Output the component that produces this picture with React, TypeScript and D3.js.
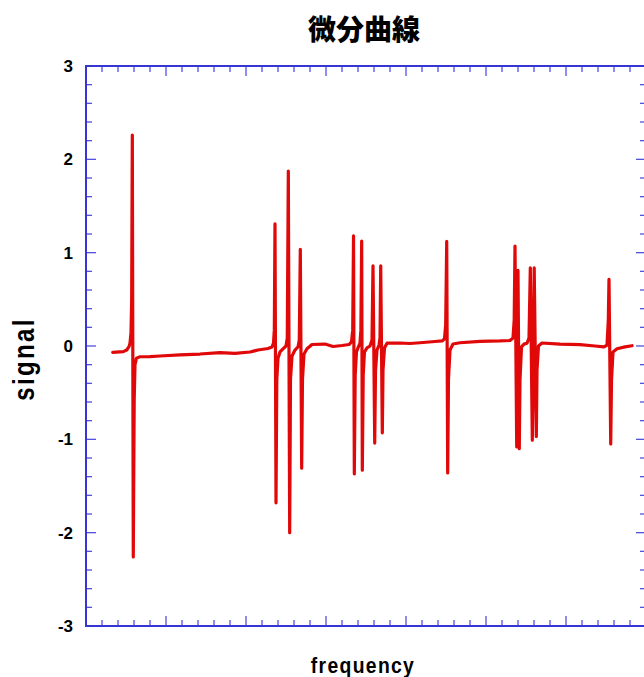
import React from "react";
import * as d3 from "d3";

// curve: frequency (arbitrary units) and signal
const curveFreq = [
  3.34, 4.66, 5.09, 5.375, 5.5, 5.625, 5.71, 5.79, 5.91, 6.025, 6.125, 6.31, 6.75, 8.0, 9.25, 11.75, 14.25, 16.75, 18.625, 20.5,
  21.5, 22.75, 23.25, 23.44, 23.54, 23.625, 23.75, 23.85, 24.0, 24.25, 24.625, 25.0, 25.16, 25.29, 25.46, 25.56, 25.75, 26.125,
  26.5, 26.66, 26.79, 26.96, 27.06, 27.25, 27.625, 28.25, 29.875, 30.875, 32.0, 32.875, 33.19, 33.34, 33.44, 33.54, 33.65, 33.81,
  34.0, 34.25, 34.36, 34.46, 34.54, 34.65, 34.81, 35.125, 35.5, 35.75, 35.875, 36.09, 36.19, 36.375, 36.625, 36.75, 36.84, 37.04,
  37.125, 37.31, 37.625, 39.25, 40.5, 41.75, 43.625, 44.5, 44.81, 44.96, 45.09, 45.21, 45.31, 45.5, 45.875, 46.75, 49.25, 51.75,
  53.0, 53.375, 53.525, 53.625, 53.84, 53.91, 54.0, 54.16, 54.25, 54.44, 54.75, 55.125, 55.375, 55.54, 55.79, 55.9, 56.025, 56.29,
  56.375, 56.56, 57.0, 59.25, 61.75, 63.625, 64.75, 65.125, 65.29, 65.375, 65.59, 65.69, 65.875, 66.375, 67.375, 68.25,
];
const curveSignal = [
  -0.068, -0.06, -0.043, -0.007, 0.03, 0.14, 0.5, 2.26, -2.26, -0.58, -0.2, -0.13, -0.115, -0.113, -0.107, -0.096, -0.086, -0.07, -0.08, -0.064,
  -0.043, -0.027, -0.01, 0.03, 0.17, 1.31, -1.68, -0.36, -0.13, -0.064, -0.03, 0.0, 0.085, 1.875, -2.0, -0.36, -0.107, -0.043,
  -0.01, 0.065, 1.036, -1.31, -0.36, -0.086, -0.03, 0.016, 0.021, -0.005, 0.005, 0.016, 0.043, 0.17, 1.18, -1.37, -0.31, -0.064,
  -0.02, 0.03, 0.17, 1.125, -1.33, -0.31, -0.064, -0.02, 0.0, 0.064, 0.86, -1.04, -0.26, -0.043, 0.01, 0.086, 0.86, -0.93,
  -0.26, -0.02, 0.03, 0.032, 0.027, 0.035, 0.048, 0.054, 0.075, 0.225, 1.12, -1.36, -0.36, -0.043, 0.021, 0.035, 0.05, 0.054,
  0.059, 0.086, 0.28, 1.07, -1.08, -0.36, 0.81, -1.1, -0.36, -0.01, 0.02, 0.03, 0.086, 0.836, -1.01, -0.26, 0.836, -0.97,
  -0.26, 0.0, 0.032, 0.021, 0.014, 0.0, -0.01, 0.01, 0.28, 0.715, -1.05, -0.36, -0.064, -0.03, -0.01, 0.003,
];
const yTickLabels = ["3", "2", "1", "0", "-1", "-2", "-3"];
const yTickValues = [3, 2, 1, 0, -1, -2, -3];
const xDomain = [0, 70];
const yDomain = [-3, 3];
const titleText = "微分曲線";
const xLabel = "frequency";
const yLabel = "signal";

export default function App() {
  const left = 86, top = 66, size = 560;
  const x = d3.scaleLinear().domain(xDomain).range([left, left + size]);
  const y = d3.scaleLinear().domain(yDomain).range([top + size, top]);
  const pts = curveFreq.map((f, i) => [f, curveSignal[i]] as [number, number]);
  const line = d3.line<[number, number]>().x((d) => x(d[0])).y((d) => y(d[1]));

  const xMinor = d3.range(0, 70.001, 2);
  const yMinor = d3.range(-3, 3.001, 0.2).map((v) => Math.round(v * 10) / 10);
  const axisColor = "#3535d8";
  const bottom = top + size, right = left + size;
  const isMajorX = (v: number) => Math.abs(v % 10) < 1e-6;
  const isMajorY = (v: number) => Math.abs(v - Math.round(v)) < 1e-6;

  return (
    <svg width={644} height={677} style={{ position: "absolute", left: 0, top: 0, background: "#fff" }}>
      <text x={364} y={28} textAnchor="middle" dominantBaseline="central" fontFamily="'Noto Sans CJK JP', sans-serif" fontWeight="900" fontSize={28} fill="#000">
        {titleText}
      </text>
      {/* ticks */}
      <g stroke={axisColor} strokeWidth={1.3} opacity={0.85}>
        {xMinor.map((v) => {
          const L = isMajorX(v) ? 10 : 6;
          const px = x(v);
          return (
            <g key={"x" + v}>
              <line x1={px} x2={px} y1={top} y2={top + L} />
              <line x1={px} x2={px} y1={bottom} y2={bottom - L} />
            </g>
          );
        })}
        {yMinor.map((v) => {
          const L = isMajorY(v) ? 10 : 6;
          const py = y(v);
          return (
            <g key={"y" + v}>
              <line x1={left} x2={left + L} y1={py} y2={py} />
              <line x1={right} x2={right - L} y1={py} y2={py} />
            </g>
          );
        })}
      </g>
      <rect x={left} y={top} width={size} height={size} fill="none" stroke={axisColor} strokeWidth={2} />
      {yTickValues.map((v, i) => (
        <text key={v} x={73} y={y(v)} dy="0.36em" textAnchor="end" fontFamily="'Liberation Sans', Arial, sans-serif" fontWeight="bold" fontSize={17} fill="#000">
          {yTickLabels[i]}
        </text>
      ))}
      <path d={line(pts) || ""} fill="none" stroke="#e00808" strokeWidth={3.2} strokeLinejoin="round" strokeLinecap="round" />
      <text transform="translate(363,673) scale(0.88,1)" textAnchor="middle" fontFamily="'Liberation Sans', Arial, sans-serif" fontWeight="bold" fontSize={22} letterSpacing={1.5} fill="#000">
        {xLabel}
      </text>
      <text transform="translate(34,359) rotate(-90) scale(0.8,1)" textAnchor="middle" fontFamily="'Liberation Sans', Arial, sans-serif" fontWeight="bold" fontSize={30} letterSpacing={3} fill="#000">
        {yLabel}
      </text>
    </svg>
  );
}
